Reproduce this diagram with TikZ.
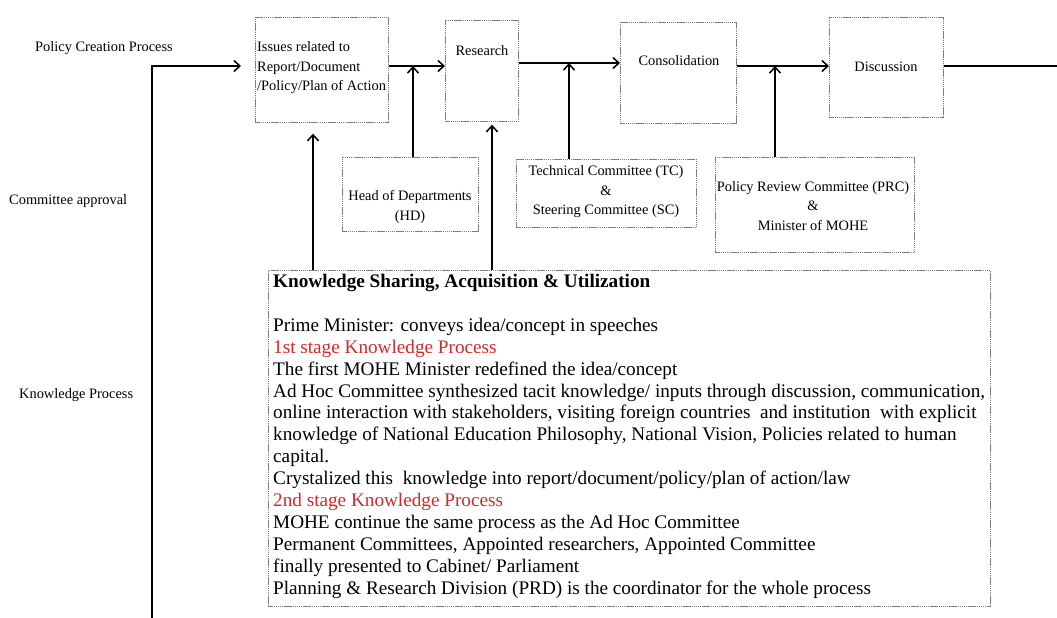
\documentclass[tikz,border=0pt]{standalone}
\usepackage{fontspec}
\setmainfont{Liberation Serif}
\usetikzlibrary{arrows.meta}
\definecolor{stagered}{RGB}{208,42,42}
\definecolor{boxgray}{RGB}{125,125,125}
\begin{document}
\begin{tikzpicture}[x=1pt,y=-1pt,
  box/.style={draw=boxgray, line width=0.7pt, dash pattern=on 1.3pt off 0.6pt, inner sep=0pt, anchor=north west},
  lbl/.style={font=\fontsize{14.4}{19.5}\selectfont, inner sep=0pt},
  body/.style={font=\fontsize{19.2}{21.9}\selectfont, inner sep=0pt, align=left},
  conn/.style={line width=1.5pt},
  arr/.style={conn, -{Straight Barb[length=6pt,width=11pt]}}]
\useasboundingbox (0,0) rectangle (1057,618);

% row labels
\node[lbl, anchor=west] (rowpolicy) at (35,48) {Policy Creation Process};
\node[lbl, anchor=west] (rowcommittee) at (9,201) {Committee approval};
\node[lbl, anchor=west] (rowknowledge) at (19,395) {Knowledge Process};

% process boxes
\node[box, minimum width=133, minimum height=105] (iss) at (255,17) {};
\node[lbl, anchor=west, align=left] (isstxt) at (257,68) {Issues related to\\Report/Document\\/Policy/Plan of Action};
\node[box, minimum width=73, minimum height=101] (res) at (445,20) {};
\node[lbl] (restxt) at (482,51) {Research};
\node[box, minimum width=116, minimum height=101] (con) at (620,22) {};
\node[lbl] (context) at (679,61) {Consolidation};
\node[box, minimum width=114, minimum height=100] (dis) at (829,17) {};
\node[lbl] (distxt) at (886,67) {Discussion};

% committee boxes
\node[box, minimum width=136, minimum height=74] (hd) at (342,157) {};
\node[lbl, align=center] (hdtxt) at (410,207) {Head of Departments\\(HD)};
\node[box, minimum width=180, minimum height=68] (tc) at (516,159) {};
\node[lbl, align=center] (tctxt) at (606,192) {Technical Committee (TC)\\\&\\Steering Committee (SC)};
\node[box, minimum width=199, minimum height=95] (prc) at (715,157) {};
\node[lbl, align=center] (prctxt) at (813,206) {Policy Review Committee (PRC)\\\&\\Minister of MOHE};

% knowledge box
\node[box, minimum width=722, minimum height=336] (kb) at (268,270) {};
\node[body, anchor=north west] (kbtxt) at (273,274) {%
\textbf{Knowledge Sharing, Acquisition \& Utilization}\\[21.9pt]
Prime Minister: conveys idea/concept in speeches\\
\textcolor{stagered}{1st stage Knowledge Process}\\
The first MOHE Minister redefined the idea/concept\\
Ad Hoc Committee synthesized tacit knowledge/ inputs through discussion, communication,\\
online interaction with stakeholders, visiting foreign countries\ \ and institution\ \ with explicit\\
knowledge of National Education Philosophy, National Vision, Policies related to human\\
capital.\\
Crystalized this\ \ knowledge into report/document/policy/plan of action/law\\
\textcolor{stagered}{2nd stage Knowledge Process}\\
MOHE continue the same process as the Ad Hoc Committee\\
Permanent Committees, Appointed researchers, Appointed Committee\\
finally presented to Cabinet/ Parliament\\
Planning \& Research Division (PRD) is the coordinator for the whole process};

% junction points on the main flow
\coordinate (jhd) at (413,66);
\coordinate (jtc) at (569,63);
\coordinate (jprc) at (775,66);
\coordinate (pcfoot) at (152,618);
\coordinate (pcrow) at (152,66);
\coordinate (flowend) at (1057,66);
\coordinate (kiss) at (313,0);
\coordinate (kres) at (492,0);

% main flow
\draw[arr, shorten >=14pt] (pcfoot) |- (iss.west |- pcrow);
\draw[arr] (iss.east |- jhd) -- (res.west |- jhd);
\draw[arr] (res.east |- jtc) -- (con.west |- jtc);
\draw[arr] (con.east |- jprc) -- (dis.west |- jprc);
\draw[conn] (dis.east |- flowend) -- (flowend);

% approvals feeding the flow
\draw[arr] (hd.north -| jhd) -- (jhd);
\draw[arr] (tc.north -| jtc) -- (jtc);
\draw[arr] (prc.north -| jprc) -- (jprc);

% knowledge feeding the first stages
\draw[arr, shorten >=11pt] (kb.north -| kiss) -- (iss.south -| kiss);
\draw[arr, shorten >=3pt] (kb.north -| kres) -- (res.south -| kres);
\end{tikzpicture}
\end{document}
